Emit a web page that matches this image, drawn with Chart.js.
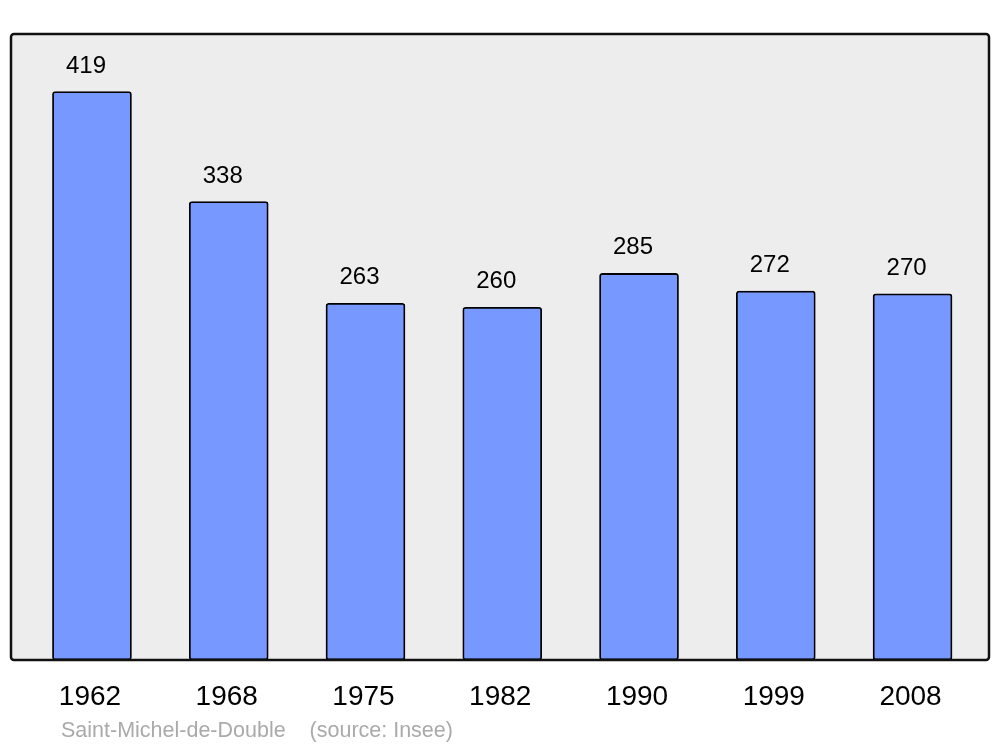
<!DOCTYPE html>
<html>
<head>
<meta charset="utf-8">
<script src="https://cdn.jsdelivr.net/npm/chart.js@4"></script>
<style>
  html, body { margin: 0; padding: 0; background: #fff; }
  #wrap { width: 1000px; height: 747px; }
</style>
</head>
<body>
<div id="wrap"><canvas id="popChart" width="1000" height="747"></canvas></div>
<script>
// Population data
const years = ['1962', '1968', '1975', '1982', '1990', '1999', '2008'];
const population = [419, 338, 263, 260, 285, 272, 270];
const sourceText = 'Saint-Michel-de-Double    (source: Insee)';

const fontFamily = '"Liberation Sans", Arial, sans-serif';

// Draws the grey plot frame behind the bars
const frameBg = {
    id: 'frameBg',
    beforeDatasetsDraw(chart) {
        const { ctx, chartArea: a } = chart;
        ctx.save();
        ctx.beginPath();
        ctx.roundRect(a.left, a.top, a.right - a.left, a.bottom - a.top, 3);
        ctx.fillStyle = '#ededed';
        ctx.fill();
        ctx.restore();
    },
    afterDatasetsDraw(chart) {
        const { ctx, chartArea: a } = chart;
        ctx.save();
        ctx.beginPath();
        ctx.roundRect(a.left, a.top, a.right - a.left, a.bottom - a.top, 3);
        ctx.lineWidth = 2.5;
        ctx.strokeStyle = '#111';
        ctx.stroke();
        ctx.restore();
    }
};

// Value labels above bars, year labels under the frame, source line
const labels = {
    id: 'labels',
    afterDraw(chart) {
        const { ctx, chartArea: a } = chart;
        const xs = chart.scales.x, ys = chart.scales.y;
        ctx.save();
        ctx.textAlign = 'center';
        ctx.textBaseline = 'alphabetic';
        ctx.fillStyle = '#000';
        population.forEach((v, i) => {
            const x = xs.getPixelForValue(i);
            ctx.font = '24px ' + fontFamily;
            ctx.fillText(String(v), x - 6, ys.getPixelForValue(v) - 19);
            ctx.font = '28px ' + fontFamily;
            ctx.fillText(years[i], x - 2, a.bottom + 45);
        });
        ctx.textAlign = 'left';
        ctx.fillStyle = '#aaaaaa';
        ctx.font = '21.5px ' + fontFamily;
        ctx.fillText(sourceText, 61, a.bottom + 77);
        ctx.restore();
    }
};

new Chart(document.getElementById('popChart'), {
    type: 'bar',
    data: {
        datasets: [{
            data: population.map((v, i) => ({ x: i, y: v })),
            backgroundColor: '#7799ff',
            borderColor: '#000',
            borderWidth: 1.8,
            borderRadius: 3,
            borderSkipped: false,
            barThickness: 79
        }]
    },
    options: {
        responsive: false,
        animation: false,
        layout: { padding: { left: 11, right: 11, top: 34, bottom: 87 } },
        plugins: { legend: { display: false }, tooltip: { enabled: false } },
        scales: {
            x: { type: 'linear', display: false, offset: false, min: -0.592, max: 6.559 },
            y: { display: false, min: 0, max: 461.5 }
        }
    },
    plugins: [frameBg, labels]
});
</script>
</body>
</html>
